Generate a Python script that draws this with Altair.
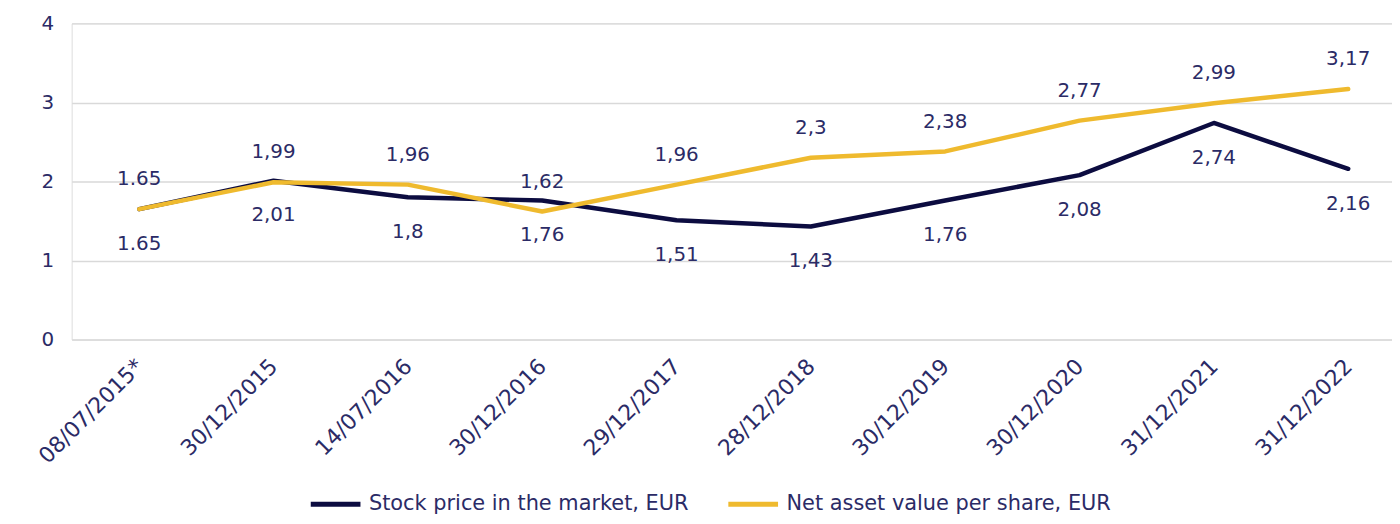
import altair as alt
import pandas as pd

dates = ["08/07/2015*", "30/12/2015", "14/07/2016", "30/12/2016", "29/12/2017",
         "28/12/2018", "30/12/2019", "30/12/2020", "31/12/2021", "31/12/2022"]
stock = [1.65, 2.01, 1.80, 1.76, 1.51, 1.43, 1.76, 2.08, 2.74, 2.16]
nav = [1.65, 1.99, 1.96, 1.62, 1.96, 2.30, 2.38, 2.77, 2.99, 3.17]
stock_labels = ["1.65", "2,01", "1,8", "1,76", "1,51", "1,43", "1,76", "2,08", "2,74", "2,16"]
nav_labels = ["1.65", "1,99", "1,96", "1,62", "1,96", "2,3", "2,38", "2,77", "2,99", "3,17"]
series = ["Stock price in the market, EUR", "Net asset value per share, EUR"]

rows = []
for i, d in enumerate(dates):
    rows.append({"idx": i, "date": d, "value": stock[i], "label": stock_labels[i], "series": series[0], "order": 0})
    rows.append({"idx": i, "date": d, "value": nav[i], "label": nav_labels[i], "series": series[1], "order": 1})
df = pd.DataFrame(rows)

NAVY = "#0c0c40"
GOLD = "#efba2e"
TEXT = "#2b2b66"
FONT = "DejaVu Sans"
FS = 20

date_array = "[" + ",".join("'" + d + "'" for d in dates) + "]"
xscale = alt.Scale(domain=[-0.503, 9.326], nice=False, zero=False)
x = alt.X("idx:Q", title=None, scale=xscale,
          axis=alt.Axis(values=list(range(len(dates))),
                        labelExpr=date_array + "[datum.value]",
                        labelAngle=-45, labelAlign="right", labelBaseline="middle",
                        domain=False, ticks=False, labelPadding=23, grid=False,
                        labelFlush=False, labelOverlap=False,
                        labelColor=TEXT, labelFontSize=22, labelFont=FONT))
y = alt.Y("value:Q", title=None,
          scale=alt.Scale(domain=[0, 4]),
          axis=alt.Axis(values=[0, 0.5, 1, 1.5, 2, 2.5, 3, 3.5, 4],
                        labelExpr="replace(toString(datum.value), '.', ',')",
                        domain=False, ticks=False, labelPadding=18,
                        gridColor="#d9d9d9", gridWidth=1.5,
                        labelColor=TEXT, labelFontSize=FS, labelFont=FONT))
color = alt.Color("series:N", sort=series,
                  scale=alt.Scale(domain=series, range=[NAVY, GOLD]),
                  legend=alt.Legend(title=None, orient="none", direction="horizontal",
                                    legendX=238, legendY=456,
                                    symbolType="stroke", symbolSize=2500,
                                    symbolStrokeWidth=5, columnPadding=29,
                                    labelLimit=500,
                                    labelColor=TEXT, labelFontSize=21, labelFont=FONT,
                                    labelOffset=6))

base = alt.Chart(df)
lines = base.mark_line(strokeWidth=4.5, strokeJoin="round", strokeCap="round").encode(
    x=x, y=y, color=color, order=alt.Order("order:Q"), detail="series:N")

nav_text = alt.Chart(df[df.series == series[1]]).mark_text(
    dy=-30, fontSize=FS, font=FONT, color=TEXT).encode(
    x=alt.X("idx:Q", scale=xscale), y="value:Q", text="label:N")
stock_text = alt.Chart(df[df.series == series[0]]).mark_text(
    dy=35, fontSize=FS, font=FONT, color=TEXT).encode(
    x=alt.X("idx:Q", scale=xscale), y="value:Q", text="label:N")

chart = alt.layer(lines, nav_text, stock_text).properties(
    width=1328, height=318,
    autosize=alt.AutoSizeParams(type="none"),
    padding={"left": 64, "top": 14, "right": 0, "bottom": 176},
).configure_view(stroke=None).configure(background="white")

chart.save("out.html", embed_options={"renderer": "svg", "actions": False})
